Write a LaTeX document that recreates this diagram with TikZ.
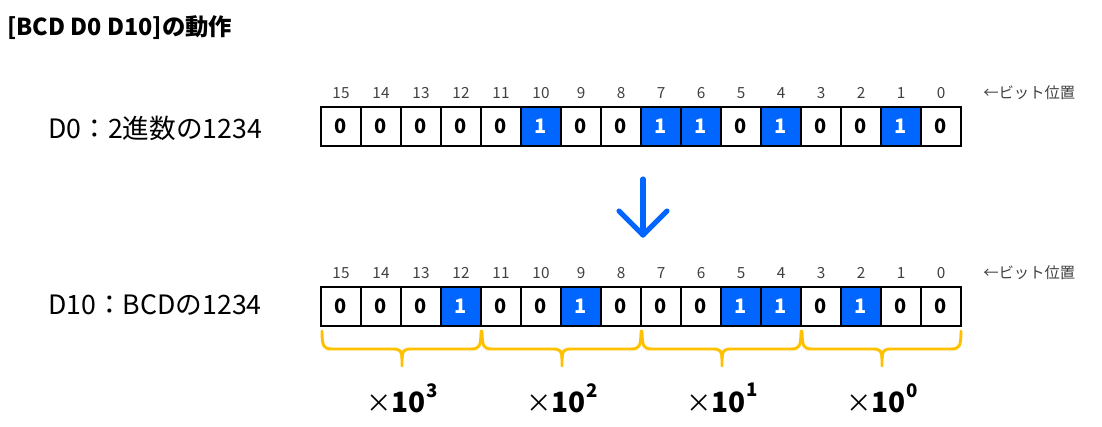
\documentclass[tikz,border=0pt]{standalone}
\usepackage{fontspec}
\setmainfont{Noto Sans CJK JP}
\definecolor{bitblue}{HTML}{0066FF}
\definecolor{brorange}{HTML}{FFC000}
\definecolor{labgray}{HTML}{404040}
\begin{document}
\begin{tikzpicture}[x=0.75pt,y=-0.75pt,
  cell/.style={draw=black, line width=0.9pt, minimum width=30pt, minimum height=29.25pt,
    inner sep=0pt, outer sep=0pt, font=\fontsize{15}{15}\selectfont\bfseries},
  oncell/.style={cell, fill=bitblue, text=white},
  bitnum/.style={font=\fontsize{11.5}{11.5}\selectfont, text=labgray, inner sep=0pt},
  poslabel/.style={font=\fontsize{11.5}{11.5}\selectfont, text=labgray, anchor=west, inner sep=0pt},
  reglabel/.style={font=\fontsize{20}{20}\selectfont, anchor=west, inner sep=0pt},
  brace/.style={draw=brorange, line width=2.2pt, line cap=round, line join=round},
  mult/.style={inner sep=0pt},
  bigarrow/.style={draw=bitblue, line width=3.8pt, line cap=round, line join=round}]
\useasboundingbox (0,0) rectangle (1102,427);

% title
\node[anchor=west, inner sep=0pt, font=\fontsize{17.5}{17.5}\selectfont\bfseries] (title) at (7,28) {[BCD D0 D10]の動作};

% top register
\node[reglabel] (lab0) at (48,128) {D0：2進数の1234};
\foreach \v [count=\k from 0] in {0,0,0,0,0,1,0,0,1,1,0,1,0,0,1,0} {
  \pgfmathtruncatemacro{\b}{15-\k}
  \ifnum\v=1
    \node[oncell] (a\b) at (341+40*\k,126.5) {1};
  \else
    \node[cell] (a\b) at (341+40*\k,126.5) {0};
  \fi
  \node[bitnum] (na\b) at (341+40*\k,93) {\b};
}
\node[poslabel] (pos0) at (983,93) {←ビット位置};

% arrow
\coordinate (arrtop) at (643,179);
\coordinate (arrtip) at (643,235);
\coordinate (arrl) at (619,211);
\coordinate (arrr) at (667,211);
\draw[bigarrow] (arrtop) -- (arrtip);
\draw[bigarrow] (arrl) -- (arrtip) -- (arrr);

% bottom register
\node[reglabel] (lab1) at (48,305) {D10：BCDの1234};
\foreach \v [count=\k from 0] in {0,0,0,1,0,0,1,0,0,0,1,1,0,1,0,0} {
  \pgfmathtruncatemacro{\b}{15-\k}
  \ifnum\v=1
    \node[oncell] (b\b) at (341+40*\k,306.5) {1};
  \else
    \node[cell] (b\b) at (341+40*\k,306.5) {0};
  \fi
  \node[bitnum] (nb\b) at (341+40*\k,273) {\b};
}
\node[poslabel] (pos1) at (983,273) {←ビット位置};

% braces and multipliers
\foreach \g/\e in {0/3,1/2,2/1,3/0} {
  \pgfmathsetmacro{\L}{322+160*\g}
  \pgfmathsetmacro{\R}{\L+159}
  \pgfmathsetmacro{\M}{\L+80}
  \draw[brace] (\L,331) .. controls (\L,347) and (\L+2,349) .. (\L+10,349)
     -- (\M-9,349) .. controls (\M-2,349) and (\M,351) .. (\M,359) -- (\M,366);
  \draw[brace] (\R,331) .. controls (\R,347) and (\R-2,349) .. (\R-10,349)
     -- (\M+9,349) .. controls (\M+2,349) and (\M,351) .. (\M,359);
  \node[mult] (m\g) at (\M,398) {\fontsize{19}{19}\selectfont ×\fontsize{21}{21}\selectfont\bfseries 10\raisebox{1.0ex}{\fontsize{14}{14}\selectfont\bfseries\e}};
}
\end{tikzpicture}
\end{document}
